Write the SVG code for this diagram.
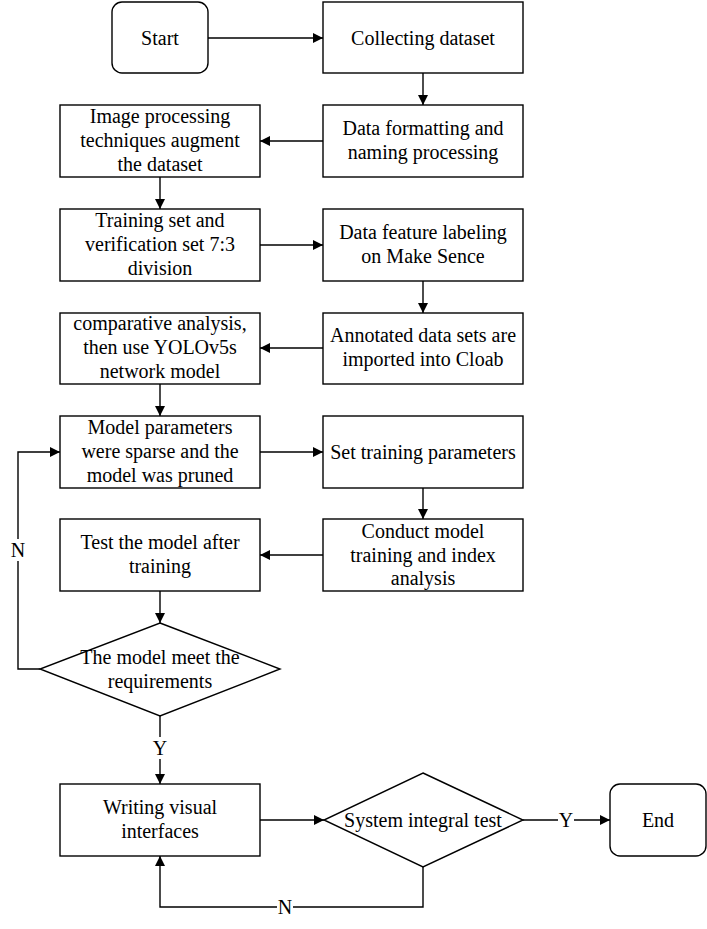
<svg xmlns="http://www.w3.org/2000/svg" width="707" height="929" viewBox="0 0 707 929">
<style>
.b{fill:#fff;stroke:#000;stroke-width:1.4}
.c{fill:none;stroke:#000;stroke-width:1.4}
text{font-family:'Liberation Serif','Times New Roman',serif;font-size:20px;fill:#000;text-anchor:middle}
.lb{fill:#fff}
</style>
<defs>
<marker id="a" viewBox="0 0 10 10" refX="10" refY="5" markerWidth="10" markerHeight="10" markerUnits="userSpaceOnUse" orient="auto">
<path d="M0,0 L10,5 L0,10 Z" fill="#000"/>
</marker>
</defs>
<g id="connectors">
<path class="c" d="M208,38 H323" marker-end="url(#a)"/>
<path class="c" d="M423,73 V105" marker-end="url(#a)"/>
<path class="c" d="M323,141 H260" marker-end="url(#a)"/>
<path class="c" d="M160,177 V209" marker-end="url(#a)"/>
<path class="c" d="M260,245 H323" marker-end="url(#a)"/>
<path class="c" d="M423,281 V313" marker-end="url(#a)"/>
<path class="c" d="M323,348 H260" marker-end="url(#a)"/>
<path class="c" d="M160,384 V416" marker-end="url(#a)"/>
<path class="c" d="M260,452 H323" marker-end="url(#a)"/>
<path class="c" d="M423,488 V519" marker-end="url(#a)"/>
<path class="c" d="M323,555 H260" marker-end="url(#a)"/>
<path class="c" d="M160,591 V623" marker-end="url(#a)"/>
<path class="c" d="M40,669 H18 V452 H60" marker-end="url(#a)"/>
<path class="c" d="M160,716 V784" marker-end="url(#a)"/>
<path class="c" d="M260,820 H324" marker-end="url(#a)"/>
<path class="c" d="M523,820 H610" marker-end="url(#a)"/>
<path class="c" d="M423,867 V907 H160 V856" marker-end="url(#a)"/>
<rect class="lb" x="10" y="539" width="16" height="22"/>
<text x="18" y="557">N</text>
<rect class="lb" x="152" y="737" width="16" height="22"/>
<text x="160" y="755">Y</text>
<rect class="lb" x="558" y="809" width="16" height="22"/>
<text x="566" y="827">Y</text>
<rect class="lb" x="277" y="896" width="16" height="22"/>
<text x="285" y="914">N</text>
</g>
<g id="start"><rect class="b" x="112" y="2" width="96" height="71" rx="10"/><text x="160" y="45">Start</text></g>
<g id="collect"><rect class="b" x="323" y="2" width="200" height="71"/><text x="423" y="45">Collecting dataset</text></g>
<g id="format"><rect class="b" x="323" y="105" width="200" height="72"/><text x="423" y="135">Data formatting and</text><text x="423" y="159">naming processing</text></g>
<g id="augment"><rect class="b" x="60" y="105" width="200" height="72"/><text x="160" y="123">Image processing</text><text x="160" y="147">techniques augment</text><text x="160" y="171">the dataset</text></g>
<g id="split"><rect class="b" x="60" y="209" width="200" height="72"/><text x="160" y="227">Training set and</text><text x="160" y="251">verification set 7:3</text><text x="160" y="275">division</text></g>
<g id="label"><rect class="b" x="323" y="209" width="200" height="72"/><text x="423" y="239">Data feature labeling</text><text x="423" y="263">on Make Sence</text></g>
<g id="import"><rect class="b" x="323" y="313" width="200" height="71"/><text x="423" y="342">Annotated data sets are</text><text x="423" y="366">imported into Cloab</text></g>
<g id="compare"><rect class="b" x="60" y="313" width="200" height="71"/><text x="160" y="330">comparative analysis,</text><text x="160" y="354">then use YOLOv5s</text><text x="160" y="378">network model</text></g>
<g id="prune"><rect class="b" x="60" y="416" width="200" height="72"/><text x="160" y="434">Model parameters</text><text x="160" y="458">were sparse and the</text><text x="160" y="482">model was pruned</text></g>
<g id="params"><rect class="b" x="323" y="416" width="200" height="72"/><text x="423" y="459">Set training parameters</text></g>
<g id="train"><rect class="b" x="323" y="519" width="200" height="72"/><text x="423" y="538">Conduct model</text><text x="423" y="562">training and index</text><text x="423" y="585">analysis</text></g>
<g id="test"><rect class="b" x="60" y="519" width="200" height="72"/><text x="160" y="549">Test the model after</text><text x="160" y="573">training</text></g>
<g id="meet"><path class="b" d="M160,623 L280,669 L160,716 L40,669 Z"/><text x="160" y="664">The model meet the</text><text x="160" y="688">requirements</text></g>
<g id="ui"><rect class="b" x="60" y="784" width="200" height="72"/><text x="160" y="814">Writing visual</text><text x="160" y="838">interfaces</text></g>
<g id="system"><path class="b" d="M423,773 L523,820 L423,867 L324,820 Z"/><text x="423" y="827">System integral test</text></g>
<g id="end"><rect class="b" x="610" y="784" width="96" height="72" rx="10"/><text x="658" y="827">End</text></g>
</svg>
